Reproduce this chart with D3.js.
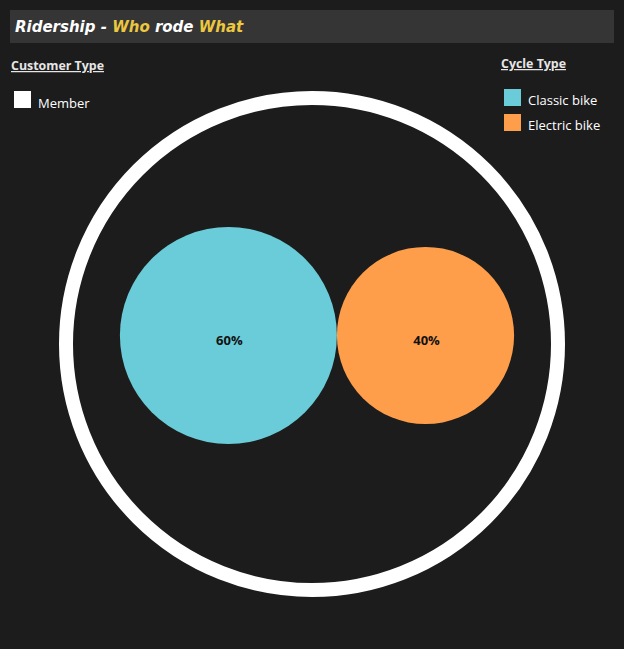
<!DOCTYPE html>
<html><head><meta charset="utf-8">
<script src="https://cdn.jsdelivr.net/npm/d3@7"></script>
<style>html,body{margin:0;padding:0;background:#1c1c1c;}svg{display:block;}</style>
</head><body>
<script>
const title = ["Ridership - ", "Who", " rode ", "What"];
const customerTypes = ["Member"];
const cycleTypes = ["Classic bike", "Electric bike"];
const shares = [60, 40];
const customerColors = ["#ffffff"];
const cycleColors = ["#6accd8", "#ff9e4a"];

const W = 624, H = 649;
const svg = d3.select("body").append("svg").attr("width", W).attr("height", H);
svg.append("rect").attr("width", W).attr("height", H).attr("fill", "#1c1c1c");

// title bar
svg.append("rect").attr("x", 10).attr("y", 10).attr("width", 604).attr("height", 33).attr("fill", "#353535");
const t = svg.append("text").attr("x", 15).attr("y", 32)
  .attr("font-family", "DejaVu Sans").attr("font-weight", "bold").attr("font-style", "italic")
  .attr("font-size", 15);
title.forEach((s, i) => t.append("tspan").text(s).attr("fill", i % 2 ? "#ecc740" : "#ffffff"));

const legFont = "'Open Sans', sans-serif";
// customer legend
svg.append("text").attr("x", 11).attr("y", 70).text("Customer Type")
  .attr("fill", "#e6e6e6").attr("font-family", legFont).attr("font-weight", "bold")
  .attr("font-size", 12.4).attr("text-decoration", "underline");
customerTypes.forEach((c, i) => {
  svg.append("rect").attr("x", 14).attr("y", 91 + i * 25).attr("width", 17).attr("height", 17).attr("fill", customerColors[i]);
  svg.append("text").attr("x", 38).attr("y", 108 + i * 25).text(c).attr("fill", "#ffffff")
    .attr("font-family", legFont).attr("font-size", 13);
});

// cycle legend
svg.append("text").attr("x", 501).attr("y", 68).text("Cycle Type")
  .attr("fill", "#e6e6e6").attr("font-family", legFont).attr("font-weight", "bold")
  .attr("font-size", 12.4).attr("text-decoration", "underline");
cycleTypes.forEach((c, i) => {
  svg.append("rect").attr("x", 504).attr("y", 89 + i * 25).attr("width", 17).attr("height", 17).attr("fill", cycleColors[i]);
  svg.append("text").attr("x", 528).attr("y", 105 + i * 25).text(c).attr("fill", "#ffffff")
    .attr("font-family", legFont).attr("font-size", 13);
});

// outer ring (member)
const cx = 312, cy = 344;
svg.append("circle").attr("cx", cx).attr("cy", cy).attr("r", 246)
  .attr("fill", "none").attr("stroke", customerColors[0]).attr("stroke-width", 14);

// packed circles
const rScale = d3.scaleSqrt().domain([0, d3.max(shares)]).range([0, 108.5]);
const nodes = shares.map((v, i) => ({ r: rScale(v), v, i }));
d3.packSiblings(nodes);
const enc = d3.packEnclose(nodes);
const ox = cx + 5 - enc.x, oy = cy - 8.5 - enc.y;
const g = svg.append("g");
g.selectAll("circle").data(nodes).join("circle")
  .attr("cx", d => d.x + ox).attr("cy", d => d.y + oy).attr("r", d => d.r)
  .attr("fill", d => cycleColors[d.i]);
g.selectAll("text").data(nodes).join("text")
  .attr("x", d => d.x + ox + 1).attr("y", d => d.y + oy + 9)
  .attr("text-anchor", "middle").attr("font-family", legFont).attr("font-weight", "bold")
  .attr("font-size", 13).attr("fill", "#111").text(d => d.v + "%");
</script>
</body></html>
